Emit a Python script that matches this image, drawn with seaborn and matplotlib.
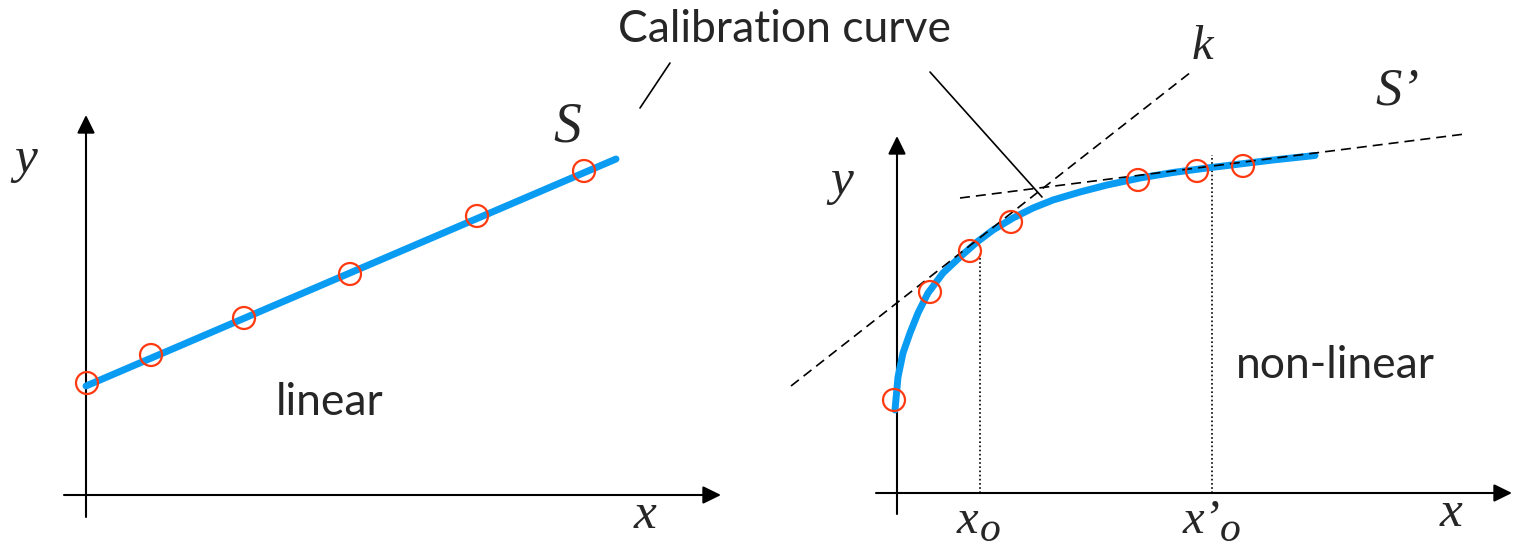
import numpy as np
import pandas as pd
import matplotlib
matplotlib.use("Agg")
import matplotlib.pyplot as plt
import seaborn as sns

# ---------------- data ----------------
# Left panel (linear calibration)
lin_pts_x = [0.01, 0.65, 1.58, 2.64, 3.91, 4.98]
lin_pts_y = [1.12, 1.40, 1.77, 2.21, 2.79, 3.24]
lin_line_x = [0.0, 5.30]
lin_line_y = [1.09, 3.36]

# Right panel (non-linear calibration)
nl_pts_x = [-0.03, 0.33, 0.73, 1.14, 2.41, 3.00, 3.46]
nl_pts_y = [0.93, 2.01, 2.42, 2.71, 3.13, 3.22, 3.27]
nl_curve_x = [-0.02, 0.01, 0.06, 0.13, 0.21, 0.31, 0.46, 0.63, 0.80, 0.96,
              1.16, 1.36, 1.56, 1.83, 2.10, 2.43, 2.76, 3.10, 3.43, 3.76, 4.18]
nl_curve_y = [0.83, 1.16, 1.40, 1.60, 1.80, 2.00, 2.20, 2.36, 2.51, 2.63,
              2.75, 2.85, 2.93, 3.01, 3.08, 3.15, 3.205, 3.25, 3.29, 3.33, 3.375]
tangent_k_x = [-1.06, 2.94]
tangent_k_y = [1.07, 4.21]
tangent_s_x = [0.63, 5.68]
tangent_s_y = [2.95, 3.59]
x0_marks = [0.83, 3.15]
x0_tops = [2.40, 3.38]

BLUE = "#0A9BF2"
RED = "#FF3A10"

sns.set_theme(style="white")
plt.rcParams["font.family"] = ["Lato", "DejaVu Sans"]

fig = plt.figure(figsize=(15.16, 5.48), dpi=100)
axL = fig.add_axes([0, 0, 0.5, 1])
axR = fig.add_axes([0.5, 0, 0.5, 1])
axL.set_xlim(-0.86, 6.72)
axL.set_ylim(-0.53, 4.95)
axR.set_xlim(-1.39, 6.19)
axR.set_ylim(-0.55, 4.93)
for ax in (axL, axR):
    ax.axis("off")

arrow_kw = dict(arrowstyle="-|>,head_length=0.55,head_width=0.27",
                mutation_scale=20, lw=1.5, color="black",
                shrinkA=0, shrinkB=0)


def axes_arrows(ax, xmin, xmax, ymin, ymax):
    ax.annotate("", xy=(xmax, 0), xytext=(xmin, 0), arrowprops=arrow_kw)
    ax.annotate("", xy=(0, ymax), xytext=(0, ymin), arrowprops=arrow_kw)


serif_it = dict(family="Liberation Serif", style="italic")

# ---------------- left panel ----------------
axes_arrows(axL, -0.22, 6.35, -0.22, 3.80)
sns.lineplot(x=lin_line_x, y=lin_line_y, ax=axL, color=BLUE, lw=5,
             zorder=3, sort=False)
sns.scatterplot(x=lin_pts_x, y=lin_pts_y, ax=axL, s=250, marker="o",
                facecolors="none", edgecolor=RED, linewidth=1.6, zorder=4)
axL.plot([5.84, 5.54], [4.32, 3.87], color="black", lw=1.2)
axL.text(-0.60, 3.23, "y", fontsize=37, ha="center", va="baseline", **serif_it)
axL.text(4.81, 3.53, "S", fontsize=40, ha="center", va="baseline", **serif_it)
axL.text(5.59, -0.33, "x", fontsize=37, ha="center", va="baseline", **serif_it)
axL.text(2.44, 0.80, "linear", fontsize=32, ha="center", va="baseline")

# ---------------- right panel ----------------
axes_arrows(axR, -0.21, 6.15, -0.21, 3.57)
sns.lineplot(x=nl_curve_x, y=nl_curve_y, ax=axR, color=BLUE, lw=5,
             zorder=3, sort=False)
sns.lineplot(x=tangent_k_x, y=tangent_k_y, ax=axR, color="black", lw=1.2,
             linestyle=(0, (6, 3.6)), zorder=5)
sns.lineplot(x=tangent_s_x, y=tangent_s_y, ax=axR, color="black", lw=1.2,
             linestyle=(0, (6, 3.6)), zorder=5)
sns.scatterplot(x=nl_pts_x, y=nl_pts_y, ax=axR, s=250, marker="o",
                facecolors="none", edgecolor=RED, linewidth=1.6, zorder=6)
for xm, yt in zip(x0_marks, x0_tops):
    axR.plot([xm, xm], [0, yt], color="black", lw=1.2,
             linestyle=(0, (1, 1.5)), zorder=2)
axR.plot([0.33, 1.45], [4.21, 2.96], color="black", lw=1.2)
axR.text(-0.55, 2.99, "y", fontsize=37, ha="center", va="baseline", **serif_it)
axR.text(3.05, 4.34, "k", fontsize=35, ha="center", va="baseline", **serif_it)
axR.text(5.00, 3.88, "S\u2019", fontsize=38, ha="center", va="baseline", **serif_it)
axR.text(5.54, -0.33, "x", fontsize=37, ha="center", va="baseline", **serif_it)
axR.text(0.60, -0.40, "x", fontsize=35, ha="left", va="baseline", **serif_it)
axR.text(0.83, -0.48, "o", fontsize=30, ha="left", va="baseline", **serif_it)
axR.text(2.86, -0.40, "x\u2019", fontsize=35, ha="left", va="baseline", **serif_it)
axR.text(3.23, -0.48, "o", fontsize=30, ha="left", va="baseline", **serif_it)
axR.text(4.38, 1.15, "non-linear", fontsize=32, ha="center", va="baseline")

fig.text(785 / 1516, 1 - 42 / 548, "Calibration curve", fontsize=32,
         ha="center", va="baseline")

fig.savefig("out.png", dpi=100)
